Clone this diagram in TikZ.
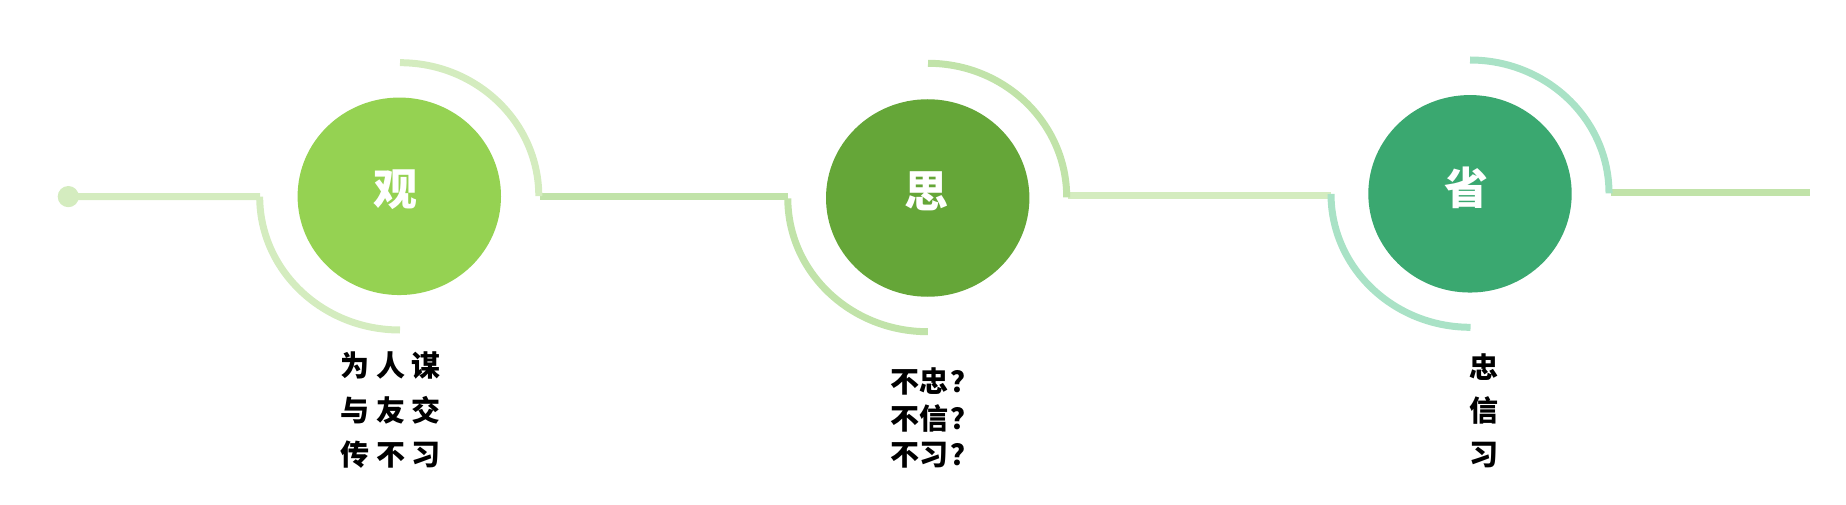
\documentclass[tikz,border=0pt]{standalone}
\usepackage{fontspec}
\newfontfamily\cjk{Noto Sans CJK SC}
\usetikzlibrary{shapes.geometric}
\definecolor{lineA}{HTML}{D4ECBF}
\definecolor{lineB}{HTML}{C1E3A9}
\definecolor{lineC}{HTML}{A9E2C6}
\definecolor{ballA}{HTML}{95D252}
\definecolor{ballB}{HTML}{65A638}
\definecolor{ballC}{HTML}{3AA870}
\tikzset{
  ring/.style={line width=7pt, line cap=butt},
  bubble/.style={ellipse, draw=none, minimum width=203.4pt, minimum height=197.5pt, inner sep=0pt},
  title/.style={text=white, inner sep=0pt, font=\cjk\bfseries\fontsize{44}{44}\selectfont},
  verse/.style={text=black, inner sep=0pt, font=\cjk\bfseries\fontsize{29}{29}\selectfont}
}
\begin{document}
\begin{tikzpicture}[x=1pt,y=1pt]
\useasboundingbox (0,0) rectangle (1846,504);
% circles
\node[bubble, fill=ballA] (c1) at (399.3,307.7) {};
\node[bubble, fill=ballB] (c2) at (927.7,306.0) {};
\node[bubble, fill=ballC] (c3) at (1470.0,310.2) {};
% titles
\node[title] (t1) at (395.0,314.3) {观};
\node[title] (t2) at (926.7,312.3) {思};
\node[title] (t3) at (1466.7,316.3) {省};
% connector points
\coordinate (dot) at (68.3,307.4);
\coordinate (l0e) at (260.0,307.3);
\coordinate (a1l) at (259.7,307.3);
\coordinate (a1t) at (400.0,441.3);
\coordinate (l1s) at (540.0,307.0);
\coordinate (l1e) at (787.7,307.0);
\coordinate (a2l) at (787.8,305.7);
\coordinate (a2t) at (928.0,440.7);
\coordinate (l2s) at (1068.3,308.0);
\coordinate (l2e) at (1331.0,308.0);
\coordinate (a3l) at (1331.0,310.0);
\coordinate (a3t) at (1470.0,444.0);
\coordinate (l3s) at (1611.0,311.2);
\coordinate (l3e) at (1810.0,311.2);
% start dot and lines
\fill[lineA] (dot) circle[radius=10.6pt];
\draw[ring, lineA] (dot) -- (l0e);
\draw[ring, lineB] (l1s) -- (l1e);
\draw[ring, lineA] (l2s) -- (l2e);
\draw[ring, lineB] (l3s) -- (l3e);
% arcs
\draw[ring, lineA] (a1l) arc[start angle=180, end angle=270, x radius=140.3pt, y radius=133.3pt];
\draw[ring, lineA] (a1t) arc[start angle=90, end angle=0, x radius=138.8pt, y radius=133.5pt];
\draw[ring, lineB] (a2l) arc[start angle=180, end angle=270, x radius=140.0pt, y radius=133.4pt];
\draw[ring, lineB] (a2t) arc[start angle=90, end angle=0, x radius=138.7pt, y radius=134.0pt];
\draw[ring, lineC] (a3l) arc[start angle=180, end angle=270, x radius=139.5pt, y radius=133.3pt];
\draw[ring, lineC] (a3t) arc[start angle=90, end angle=0, x radius=139.0pt, y radius=133.3pt];
% texts
\node[verse] (v11) at (390.8,138.5) {为 人 谋};
\node[verse] (v12) at (390.8,93.5) {与 友 交};
\node[verse] (v13) at (390.8,49.5) {传 不 习};
\node[verse, anchor=west] (v21) at (890.5,122.5) {不忠\kern2pt？};
\node[verse, anchor=west] (v22) at (890.5,85.5) {不信\kern2pt？};
\node[verse, anchor=west] (v23) at (890.5,49.0) {不习\kern2pt？};
\node[verse] (v31) at (1484.0,136.5) {忠};
\node[verse] (v32) at (1484.0,94.0) {信};
\node[verse] (v33) at (1484.0,49.0) {习};
\end{tikzpicture}
\end{document}
